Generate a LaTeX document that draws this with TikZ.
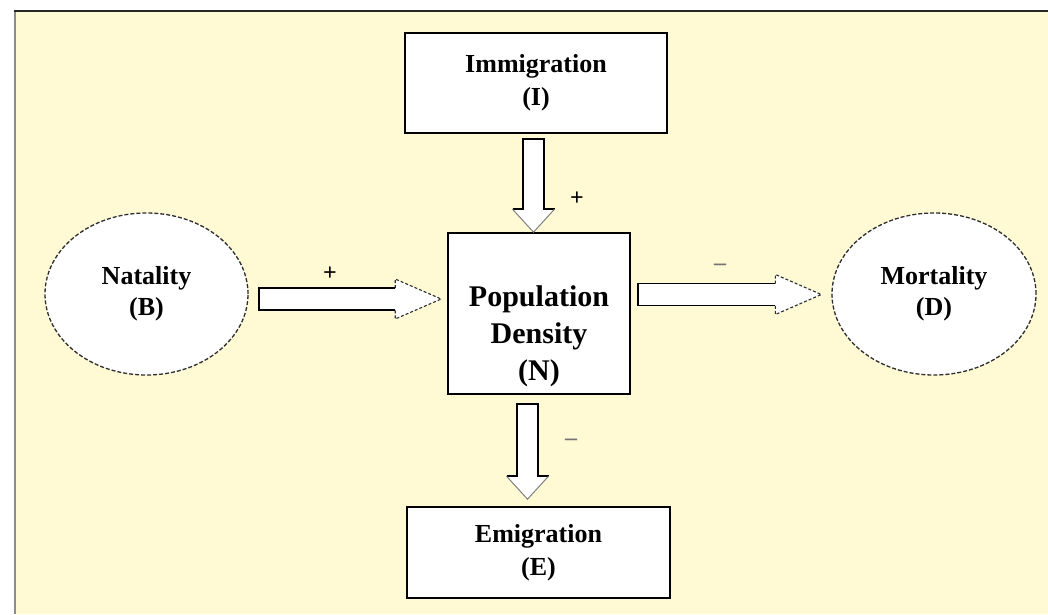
\documentclass[tikz,border=0pt]{standalone}
\usepackage{fontspec}
\setmainfont{Liberation Serif}
\usetikzlibrary{positioning,calc,shapes.geometric}

\definecolor{paper}{RGB}{255,250,212}
\definecolor{ring}{RGB}{45,45,45}

\tikzset{
  box/.style={draw=black, line width=1.6pt, fill=white, align=center, inner sep=0pt,
    font=\fontsize{26}{33}\selectfont\bfseries},
  cell/.style={ellipse, draw=ring, line width=1.3pt, dash pattern=on 4pt off 2pt, fill=white,
    align=center, inner sep=0pt, font=\fontsize{26}{31}\selectfont\bfseries},
  bigtext/.style={align=center, font=\fontsize{30}{37}\selectfont\bfseries},
  sign/.style={font=\fontsize{24}{24}\selectfont\bfseries},
  shaft/.style={line width=1.7pt},
  tipline/.style={draw=gray, line width=1pt},
  tipdash/.style={draw=ring, line width=1.1pt, dash pattern=on 3pt off 2pt}
}

% fat arrow pointing right: start, tip, head style
\newcommand{\fatright}[3]{%
  \fill[white] let \p1=(#1), \p2=(#2) in
    (\x1,\y1+11pt) -- (\x2-46pt,\y1+11pt) -- (\x2-46pt,\y1+20pt) -- (\x2,\y1)
    -- (\x2-46pt,\y1-20pt) -- (\x2-46pt,\y1-11pt) -- (\x1,\y1-11pt) -- cycle;
  \draw[shaft] let \p1=(#1), \p2=(#2) in
    (\x2-46pt,\y1+11pt) -- (\x1,\y1+11pt) -- (\x1,\y1-11pt) -- (\x2-46pt,\y1-11pt);
  \draw[#3] let \p1=(#1), \p2=(#2) in
    (\x2-46pt,\y1+11pt) -- (\x2-46pt,\y1+20pt) -- (\x2,\y1)
    -- (\x2-46pt,\y1-20pt) -- (\x2-46pt,\y1-11pt);
}
% fat arrow pointing down: start, tip
\newcommand{\fatdown}[2]{%
  \fill[white] let \p1=(#1), \p2=(#2) in
    (\x1-10.5pt,\y1) -- (\x1-10.5pt,\y2+23pt) -- (\x1-21pt,\y2+23pt) -- (\x1,\y2)
    -- (\x1+21pt,\y2+23pt) -- (\x1+10.5pt,\y2+23pt) -- (\x1+10.5pt,\y1) -- cycle;
  \draw[shaft] let \p1=(#1), \p2=(#2) in
    (\x1-21pt,\y2+23pt) -- (\x1-10.5pt,\y2+23pt) -- (\x1-10.5pt,\y1)
    -- (\x1+10.5pt,\y1) -- (\x1+10.5pt,\y2+23pt) -- (\x1+21pt,\y2+23pt);
  \draw[tipline] let \p1=(#1), \p2=(#2) in
    (\x1-21pt,\y2+23pt) -- (\x1,\y2) -- (\x1+21pt,\y2+23pt);
}

\begin{document}
\begin{tikzpicture}[x=1pt,y=1pt]

  \useasboundingbox (0,0) rectangle (1048,614);
  \fill[paper] (15,0) rectangle (1048,603);
  \draw[black!45, line width=1.8pt] (15,0) -- (15,603);
  \draw[black!85, line width=1.8pt] (14,603) -- (1048,603);

  % boxes
  \node[box, minimum width=182pt, minimum height=161pt,
        label={[bigtext, yshift=-23pt]center:{Population\\Density\\(N)}}] (pop) at (539,300.5) {};
  \node[box, minimum width=262pt, minimum height=100pt] (imm) at (536,531) {Immigration\\(I)};
  \node[box, minimum width=263pt, minimum height=91pt] (emi) at (538.5,61.5) {Emigration\\(E)};
  \node[cell, minimum width=203pt, minimum height=162pt] (nat) at (146.5,320) {Natality\\(B)};
  \node[cell, minimum width=204pt, minimum height=162pt] (mort) at (934,320) {Mortality\\(D)};

  % arrows
  \coordinate (natA) at ($(nat.east)+(10,-5)$);
  \coordinate (natB) at ($(pop.west)+(-6,14.5)$);
  \coordinate (mortA) at ($(pop.east)+(7,19)$);
  \coordinate (mortB) at ($(mort.west)+(-10,0)$);
  \coordinate (immA) at ($(imm.south)+(-2.5,-5)$);
  \coordinate (immB) at ($(pop.north)+(-5.5,0)$);
  \coordinate (emiA) at ($(pop.south)+(-11.5,-9)$);
  \coordinate (emiB) at ($(emi.north)+(-11,7)$);

  \fatright{natA}{natB}{tipdash}
  \fatright{mortA}{mortB}{tipdash}
  \fatdown{immA}{immB}
  \fatdown{emiA}{emiB}

  % signs
  \node[sign] (s1) at (330,340) {+};
  \node[sign] (s2) at (577,415) {+};
  \node[sign, text=black!55] (s3) at (720,347) {--};
  \node[sign, text=black!55] (s4) at (571,172) {--};

\end{tikzpicture}
\end{document}
